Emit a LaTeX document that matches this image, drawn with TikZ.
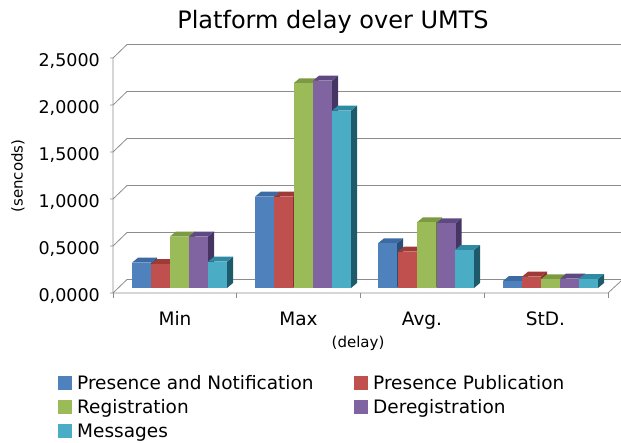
\documentclass[tikz,border=0pt]{standalone}
\usepackage{fontspec}
\setmainfont{DejaVu Sans}
\definecolor{gridgray}{HTML}{8C8C8C}
\definecolor{cA}{HTML}{4F81BD}\definecolor{cAtop}{HTML}{3C6AA3}\definecolor{cAside}{HTML}{2C4D78}
\definecolor{cB}{HTML}{C0504D}\definecolor{cBtop}{HTML}{A03A37}\definecolor{cBside}{HTML}{87302D}
\definecolor{cC}{HTML}{9BBB59}\definecolor{cCtop}{HTML}{7C9A42}\definecolor{cCside}{HTML}{627E35}
\definecolor{cD}{HTML}{8064A2}\definecolor{cDtop}{HTML}{5F4982}\definecolor{cDside}{HTML}{463563}
\definecolor{cE}{HTML}{4BACC6}\definecolor{cEtop}{HTML}{2F8AA3}\definecolor{cEside}{HTML}{1F5A6B}
\newcommand{\drawbar}[3]{%
  \fill[#3side] ({#1+19},288) -- ({#1+25},283) -- ({#1+25},{#2-5}) -- ({#1+19},#2) -- cycle;
  \fill[#3top] (#1,#2) -- ({#1+6},{#2-5}) -- ({#1+25},{#2-5}) -- ({#1+19},#2) -- cycle;
  \fill[#3] (#1,#2) rectangle ({#1+19},288);
}
\begin{document}
\begin{tikzpicture}[x=1pt,y=-1pt,
  gridline/.style={draw=gridgray,line width=0.8pt},
  ylab/.style={anchor=base east,inner sep=0pt,font=\fontsize{17.5}{20}\selectfont},
  catlab/.style={anchor=base,inner sep=0pt,font=\fontsize{18.5}{21}\selectfont},
  leglab/.style={anchor=base west,inner sep=0pt,font=\fontsize{18.5}{21}\selectfont},
  legbox/.style={minimum width=14pt,minimum height=14pt,inner sep=0pt,draw=none}]
\useasboundingbox (0,0) rectangle (621,442);
% back wall grid and y-axis ticks
\foreach \v in {0,...,5}{
  \draw[gridline] (110,{293-47*\v}) -- (113,{293-47*\v}) -- (127,{279.5-47*\v}) -- (621,{279.5-47*\v});
}
% axes
\draw[gridline] (113,58) -- (113,293) -- (608,293) -- (621,281);
\foreach \x in {113,236.75,360.5,484.25,608}{
  \draw[gridline] (\x,293) -- (\x,298);
}
% bars: Min
\drawbar{132}{262.7}{cA}
\drawbar{151}{264}{cB}
\drawbar{170}{236.5}{cC}
\drawbar{189}{236.5}{cD}
\drawbar{208}{261.7}{cE}
% Max
\drawbar{255}{196.7}{cA}
\drawbar{274}{196.7}{cB}
\drawbar{293.5}{83.3}{cC}
\drawbar{313}{80.7}{cD}
\drawbar{332}{110.7}{cE}
% Avg
\drawbar{378}{243.3}{cA}
\drawbar{398}{251.7}{cB}
\drawbar{417}{222.3}{cC}
\drawbar{436.5}{223.3}{cD}
\drawbar{455}{250}{cE}
% StD
\drawbar{503}{281}{cA}
\drawbar{522}{276.7}{cB}
\drawbar{541}{279.3}{cC}
\drawbar{560}{278.7}{cD}
\drawbar{579}{279}{cE}
% title
\node[anchor=base,inner sep=0pt,font=\fontsize{24}{28}\selectfont] (title) at (333,28) {Platform delay over UMTS};
% y labels
\node[ylab] (y0) at (100,301.5) {0,0000};
\node[ylab] (y1) at (100,254.5) {0,5000};
\node[ylab] (y2) at (100,207.5) {1,0000};
\node[ylab] (y3) at (100,160.5) {1,5000};
\node[ylab] (y4) at (100,113.5) {2,0000};
\node[ylab] (y5) at (100,66.5) {2,5000};
\node[rotate=90,inner sep=0pt,font=\fontsize{15}{18}\selectfont] (yt) at (18,176) {(sencods)};
% categories
\node[catlab] (cmin) at (175,325.7) {Min};
\node[catlab] (cmax) at (298.5,325.7) {Max};
\node[catlab] (cavg) at (422,325.7) {Avg.};
\node[catlab] (cstd) at (545.5,325.7) {StD.};
\node[inner sep=0pt,font=\fontsize{15}{18}\selectfont] (xt) at (358,343) {(delay)};
% legend
\node[legbox,fill=cA] (lA) at (64.5,383) {};
\node[leglab] (tA) at (77,389.8) {Presence and Notification};
\node[legbox,fill=cB] (lB) at (360.5,383) {};
\node[leglab] (tB) at (373,389.8) {Presence Publication};
\node[legbox,fill=cC] (lC) at (64.5,407) {};
\node[leglab] (tC) at (77,413.8) {Registration};
\node[legbox,fill=cD] (lD) at (360.5,407) {};
\node[leglab] (tD) at (373,413.8) {Deregistration};
\node[legbox,fill=cE] (lE) at (64.5,431) {};
\node[leglab] (tE) at (77,437.8) {Messages};
\end{tikzpicture}
\end{document}
